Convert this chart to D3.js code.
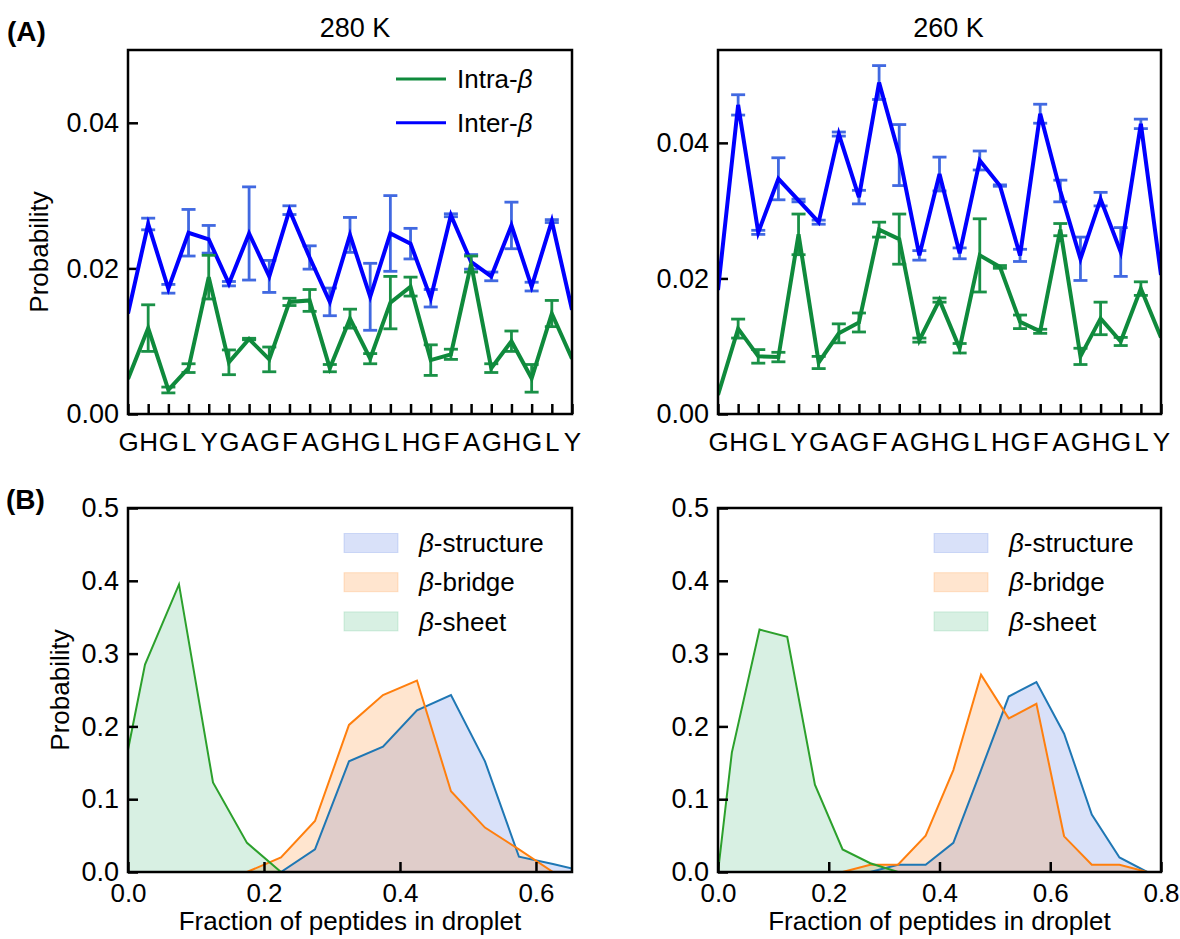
<!DOCTYPE html>
<html>
<head>
<meta charset="utf-8">
<script src="https://d3js.org/d3.v7.min.js"></script>
<style>
body { margin: 0; background: #fff; }
svg text { font-family: "Liberation Sans", Arial, sans-serif; fill: #000; }
</style>
</head>
<body>
<svg id="chart" width="1180" height="939"></svg>
<script>
// residues along the peptide
var residues = "GHGLYGAGFAGHGLHGFAGHGLY".split("");

// (A) 280 K
var intra280    = [0.0048,0.0118,0.0033,0.0063,0.0188,0.0071,0.0103,0.0075,0.0154,0.0156,0.0063,0.0131,0.0076,0.0153,0.0175,0.0074,0.0082,0.0206,0.0063,0.0100,0.0049,0.0138,0.0076];
var intra280Err = [0,0.0032,0.0004,0.0006,0.0030,0.0017,0.0001,0.0017,0.0005,0.0015,0.0005,0.0013,0.0007,0.0036,0.0013,0.0021,0.0007,0.0011,0.0006,0.0014,0.0019,0.0018,0];
var inter280    = [0.0138,0.0261,0.0172,0.0249,0.0240,0.0179,0.0248,0.0189,0.0280,0.0215,0.0154,0.0246,0.0161,0.0248,0.0234,0.0159,0.0273,0.0209,0.0189,0.0259,0.0175,0.0265,0.0143];
var inter280Err = [0,0.0008,0.0006,0.0032,0.0019,0.0003,0.0064,0.0022,0.0006,0.0016,0.0019,0.0024,0.0046,0.0052,0.0021,0.0012,0.0002,0.0010,0.0006,0.0032,0.0006,0.0002,0];

// (A) 260 K
var intra260    = [0.0028,0.0126,0.0085,0.0084,0.0265,0.0076,0.0119,0.0135,0.0272,0.0258,0.0109,0.0168,0.0097,0.0234,0.0217,0.0136,0.0122,0.0272,0.0085,0.0141,0.0107,0.0185,0.0113];
var intra260Err = [0,0.0014,0.0010,0.0007,0.0030,0.0009,0.0014,0.0014,0.0011,0.0037,0.0003,0.0003,0.0007,0.0054,0.0002,0.0010,0.0003,0.0009,0.0012,0.0024,0.0006,0.0010,0];
var inter260    = [0.0183,0.0456,0.0268,0.0347,0.0315,0.0283,0.0413,0.0320,0.0489,0.0382,0.0234,0.0354,0.0237,0.0374,0.0337,0.0234,0.0443,0.0329,0.0229,0.0317,0.0239,0.0428,0.0205];
var inter260Err = [0,0.0015,0.0003,0.0031,0.0002,0.0003,0.0003,0.0010,0.0025,0.0045,0.0007,0.0025,0.0008,0.0014,0.0001,0.0009,0.0014,0.0016,0.0032,0.0010,0.0036,0.0007,0];

// (B) 280 K  (fraction of peptides in droplet -> probability)
var structX280 = [0.225,0.275,0.325,0.375,0.425,0.475,0.525,0.575,0.625,0.675];
var structY280 = [0.0,0.031,0.152,0.172,0.222,0.243,0.152,0.021,0.011,0.0];
var bridgeX280 = [0.175,0.225,0.275,0.325,0.375,0.425,0.475,0.525,0.575,0.625];
var bridgeY280 = [0.0,0.020,0.070,0.202,0.243,0.263,0.111,0.061,0.031,0.0];
var sheetX280  = [0.0,0.025,0.075,0.125,0.175,0.225];
var sheetY280  = [0.168,0.285,0.395,0.123,0.040,0.0];

// (B) 260 K
var structX260 = [0.275,0.325,0.375,0.425,0.475,0.525,0.575,0.625,0.675,0.725,0.775];
var structY260 = [0.0,0.010,0.010,0.040,0.140,0.241,0.261,0.190,0.079,0.020,0.0];
var bridgeX260 = [0.225,0.275,0.325,0.375,0.425,0.475,0.525,0.575,0.625,0.675,0.725,0.775];
var bridgeY260 = [0.0,0.010,0.010,0.050,0.140,0.271,0.211,0.231,0.049,0.010,0.010,0.0];
var sheetX260  = [0.0,0.025,0.075,0.125,0.175,0.225,0.275,0.325];
var sheetY260  = [0.0,0.164,0.333,0.323,0.120,0.031,0.012,0.0];

var topTicks = [0, 0.02, 0.04];
var probTicks = [0, 0.1, 0.2, 0.3, 0.4, 0.5];
var fracTicks280 = [0, 0.2, 0.4, 0.6];
var fracTicks260 = [0, 0.2, 0.4, 0.6, 0.8];

var svg = d3.select("#chart");
var clipCount = 0;

function styleAxis(g, size) {
	g.select(".domain").remove();
	g.selectAll(".tick line").attr("stroke", "#000").attr("stroke-width", 2.5);
	g.selectAll(".tick text").attr("font-size", size).attr("fill", "#000")
		.attr("font-family", "Liberation Sans, Arial, sans-serif");
}

function addClip(g, w, h) {
	clipCount++;
	var id = "clip" + clipCount;
	g.append("clipPath").attr("id", id).append("rect").attr("width", w).attr("height", h);
	return "url(#" + id + ")";
}

function residuePanel(left, right, top, bottom, ymax, intra, intraErr, inter, interErr, title, titleShift, withLabel, withLegend) {
	var w = right - left, h = bottom - top;
	var g = svg.append("g").attr("transform", "translate(" + left + "," + top + ")");
	var x = d3.scaleLinear().domain([0, residues.length - 1]).range([0, w]);
	var y = d3.scaleLinear().domain([0, ymax]).range([h, 0]);
	var clip = addClip(g, w, h);

	var xAxis = g.append("g").attr("transform", "translate(0," + h + ")")
		.call(d3.axisBottom(x).tickValues(d3.range(residues.length))
			.tickFormat(function(i) { return residues[i]; })
			.tickSize(-10).tickPadding(19));
	styleAxis(xAxis, "26px");

	var yAxis = g.append("g")
		.call(d3.axisLeft(y).tickValues(topTicks).tickFormat(d3.format(".2f"))
			.tickSize(-10).tickPadding(9));
	styleAxis(yAxis, "27px");

	var plot = g.append("g").attr("clip-path", clip);

	function series(vals, errs, lineColor, errColor) {
		var bars = plot.append("g").attr("stroke", errColor).attr("stroke-width", 2.8);
		vals.forEach(function(v, i) {
			var e = errs[i];
			if (!e) return;
			var cx = x(i);
			bars.append("line").attr("x1", cx).attr("x2", cx).attr("y1", y(v - e)).attr("y2", y(v + e));
			bars.append("line").attr("x1", cx - 7).attr("x2", cx + 7).attr("y1", y(v - e)).attr("y2", y(v - e));
			bars.append("line").attr("x1", cx - 7).attr("x2", cx + 7).attr("y1", y(v + e)).attr("y2", y(v + e));
		});
		plot.append("path").datum(vals)
			.attr("fill", "none").attr("stroke", lineColor).attr("stroke-width", 4)
			.attr("stroke-linejoin", "miter")
			.attr("d", d3.line().x(function(d, i) { return x(i); }).y(function(d) { return y(d); }));
	}
	series(inter, interErr, "#0000ff", "#4169e1");
	series(intra, intraErr, "#0f8a3c", "#1a9147");

	g.append("rect").attr("width", w).attr("height", h)
		.attr("fill", "none").attr("stroke", "#000").attr("stroke-width", 2.5);

	g.append("text").attr("x", w / 2 + titleShift).attr("y", -13).attr("text-anchor", "middle")
		.attr("font-size", "27px").text(title);

	if (withLabel) {
		svg.append("text").attr("transform", "translate(48," + 252 + ") rotate(-90)")
			.attr("text-anchor", "middle").attr("font-size", "26px").text("Probability");
	}

	if (withLegend) {
		var items = [["Intra-", "#0f8a3c"], ["Inter-", "#0000ff"]];
		items.forEach(function(it, k) {
			var ly = 29 + k * 43.7;
			g.append("line").attr("x1", 268).attr("x2", 318).attr("y1", ly).attr("y2", ly)
				.attr("stroke", it[1]).attr("stroke-width", 3);
			var t = g.append("text").attr("x", 329).attr("y", ly).attr("dy", "0.35em")
				.attr("font-size", "26px");
			t.append("tspan").text(it[0]);
			t.append("tspan").attr("font-style", "italic").text("\u03b2");
		});
	}
}

function histPanel(left, right, top, bottom, xmax, xTicks, sets, withLabel) {
	var w = right - left, h = bottom - top;
	var g = svg.append("g").attr("transform", "translate(" + left + "," + top + ")");
	var x = d3.scaleLinear().domain([0, xmax]).range([0, w]);
	var y = d3.scaleLinear().domain([0, 0.5]).range([h, 0]);
	var clip = addClip(g, w, h);

	var plot = g.append("g").attr("clip-path", clip);
	sets.forEach(function(s) {
		var pts = s.xs.map(function(v, i) { return [v, s.ys[i]]; });
		plot.append("path").datum(pts)
			.attr("fill", s.fill).attr("fill-opacity", 0.2)
			.attr("d", d3.area().x(function(d) { return x(d[0]); }).y0(y(0)).y1(function(d) { return y(d[1]); }));
	});
	sets.forEach(function(s) {
		var pts = s.xs.map(function(v, i) { return [v, s.ys[i]]; });
		plot.append("path").datum(pts)
			.attr("fill", "none").attr("stroke", s.line).attr("stroke-width", 2)
			.attr("d", d3.line().x(function(d) { return x(d[0]); }).y(function(d) { return y(d[1]); }));
	});

	var xAxis = g.append("g").attr("transform", "translate(0," + h + ")")
		.call(d3.axisBottom(x).tickValues(xTicks).tickFormat(d3.format(".1f"))
			.tickSize(-10).tickPadding(12));
	styleAxis(xAxis, "26px");

	var yAxis = g.append("g")
		.call(d3.axisLeft(y).tickValues(probTicks).tickFormat(d3.format(".1f"))
			.tickSize(-10).tickPadding(9));
	styleAxis(yAxis, "27px");

	g.append("rect").attr("width", w).attr("height", h)
		.attr("fill", "none").attr("stroke", "#000").attr("stroke-width", 2.5);

	g.append("text").attr("x", w / 2).attr("y", h + 58).attr("text-anchor", "middle")
		.attr("font-size", "26px").text("Fraction of peptides in droplet");

	if (withLabel) {
		svg.append("text").attr("transform", "translate(69," + (top + h / 2) + ") rotate(-90)")
			.attr("text-anchor", "middle").attr("font-size", "26px").text("Probability");
	}

	sets.forEach(function(s, k) {
		var ly = 35 + k * 39.2;
		g.append("rect").attr("x", 216).attr("y", ly - 9.5).attr("width", 54).attr("height", 19)
			.attr("fill", s.fill).attr("fill-opacity", 0.2)
			.attr("stroke", s.fill).attr("stroke-opacity", 0.2).attr("stroke-width", 1);
		var t = g.append("text").attr("x", 291).attr("y", ly).attr("dy", "0.35em").attr("font-size", "26px");
		t.append("tspan").attr("font-style", "italic").text("\u03b2");
		t.append("tspan").text(s.name);
	});
}

residuePanel(128, 572, 50, 414, 0.05, intra280, intra280Err, inter280, inter280Err, "280 K", 5, true, true);
residuePanel(718, 1161, 50, 414, 0.0537, intra260, intra260Err, inter260, inter260Err, "260 K", 9, false, false);

histPanel(128, 572, 508, 872, 0.653, fracTicks280, [
	{ name: "-structure", xs: structX280, ys: structY280, line: "#1f77b4", fill: "#4169e1" },
	{ name: "-bridge", xs: bridgeX280, ys: bridgeY280, line: "#ff7f0e", fill: "#ff7f0e" },
	{ name: "-sheet", xs: sheetX280, ys: sheetY280, line: "#2ca02c", fill: "#3cb371" }
], true);
histPanel(718, 1161, 508, 872, 0.8, fracTicks260, [
	{ name: "-structure", xs: structX260, ys: structY260, line: "#1f77b4", fill: "#4169e1" },
	{ name: "-bridge", xs: bridgeX260, ys: bridgeY260, line: "#ff7f0e", fill: "#ff7f0e" },
	{ name: "-sheet", xs: sheetX260, ys: sheetY260, line: "#2ca02c", fill: "#3cb371" }
], false);

// panel letters
svg.append("text").attr("x", 7).attr("y", 41).attr("font-size", "28px").attr("font-weight", "bold").text("(A)");
svg.append("text").attr("x", 6).attr("y", 509).attr("font-size", "28px").attr("font-weight", "bold").text("(B)");
</script>
</body>
</html>
